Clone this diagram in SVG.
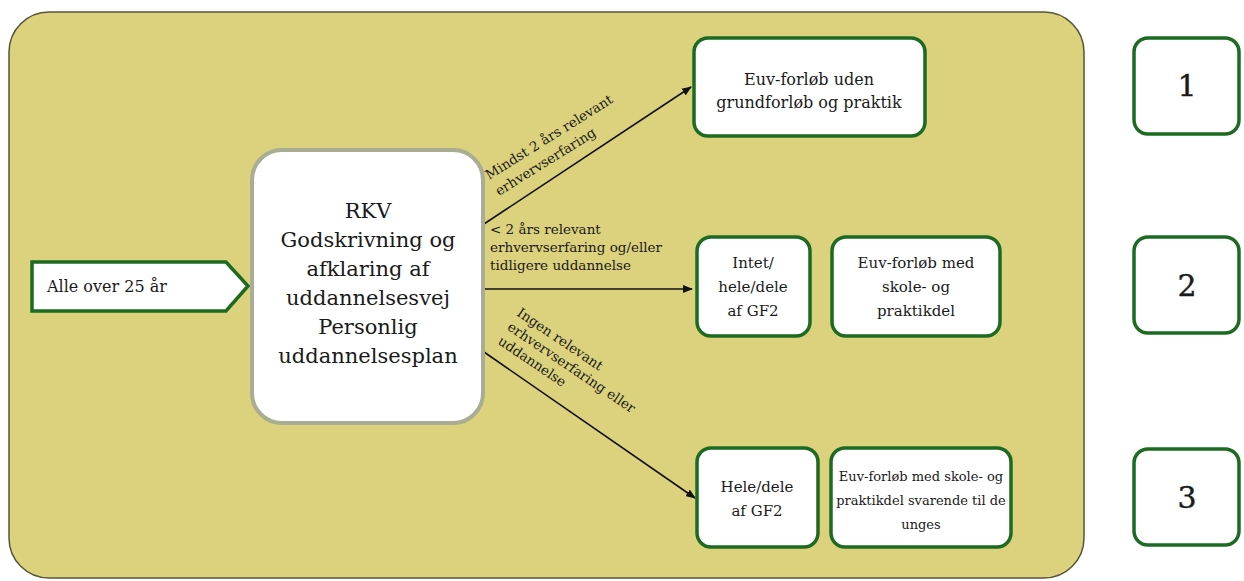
<svg xmlns="http://www.w3.org/2000/svg" width="1244" height="581" viewBox="0 0 1244 581">
<style>
text{font-family:'DejaVu Serif','Liberation Serif',serif;fill:#1a1a1a}
.gb{fill:#fff;stroke:#1d6b22;stroke-width:3.5}
.lbl{font-size:13.5px}
.c{stroke:#111;stroke-width:1.6;fill:none}
.num{font-size:30px;text-anchor:middle;stroke:#1a1a1a;stroke-width:0.4}
</style>
<defs>
<marker id="ah" markerWidth="10" markerHeight="8" refX="9" refY="4" orient="auto" markerUnits="userSpaceOnUse"><path d="M0,0 L10,4 L0,8 z" fill="#111"/></marker>
</defs>
<rect width="1244" height="581" fill="#fff"/>
<text x="490" y="-20" font-size="80" font-weight="bold" fill="#000">y</text>
<rect id="panel" x="9" y="12" width="1075" height="566" rx="40" fill="#DCD17C" stroke="#55553a" stroke-width="1.5"/>
<g id="connectors">
<line class="c" x1="484" y1="224" x2="691" y2="87" marker-end="url(#ah)"/>
<line class="c" x1="484" y1="289" x2="692" y2="289" marker-end="url(#ah)"/>
<line class="c" x1="484" y1="352" x2="695" y2="498" marker-end="url(#ah)"/>
<text class="lbl" transform="translate(489,180) rotate(-32)"><tspan x="0" y="0">Mindst 2 års relevant</tspan><tspan x="0" y="19">erhvervserfaring</tspan></text>
<text class="lbl"><tspan x="490" y="234">&lt; 2 års relevant</tspan><tspan x="490" y="252">erhvervserfaring og/eller</tspan><tspan x="490" y="270">tidligere uddannelse</tspan></text>
<text class="lbl" transform="translate(516,315) rotate(34)"><tspan x="0" y="0">Ingen relevant</tspan><tspan x="0" y="17">erhvervserfaring eller</tspan><tspan x="0" y="34">uddannelse</tspan></text>
</g>
<g id="start">
<path class="gb" d="M32,262 H226 L248,286 L226,311 H32 Z"/>
<text x="47" y="292" font-size="16">Alle over 25 år</text>
</g>
<g id="rkv">
<rect x="252" y="150" width="231" height="273" rx="30" fill="#fff" stroke="#a9ad93" stroke-width="4"/>
<text font-size="21" text-anchor="middle"><tspan x="368" y="218">RKV</tspan><tspan x="368" y="247">Godskrivning og</tspan><tspan x="368" y="276">afklaring af</tspan><tspan x="368" y="305">uddannelsesvej</tspan><tspan x="368" y="334">Personlig</tspan><tspan x="368" y="363">uddannelsesplan</tspan></text>
</g>
<g id="n1">
<rect class="gb" x="694" y="38" width="231" height="98" rx="14"/>
<text font-size="16" text-anchor="middle"><tspan x="809" y="85">Euv-forløb uden</tspan><tspan x="809" y="108">grundforløb og praktik</tspan></text>
</g>
<g id="n2a">
<rect class="gb" x="697" y="237" width="113" height="99" rx="14"/>
<text font-size="15" text-anchor="middle"><tspan x="753" y="268">Intet/</tspan><tspan x="753" y="292">hele/dele</tspan><tspan x="753" y="316">af GF2</tspan></text>
</g>
<g id="n2b">
<rect class="gb" x="832" y="237" width="168" height="99" rx="14"/>
<text font-size="15" text-anchor="middle"><tspan x="916" y="268">Euv-forløb med</tspan><tspan x="916" y="292">skole- og</tspan><tspan x="916" y="316">praktikdel</tspan></text>
</g>
<g id="n3a">
<rect class="gb" x="697" y="448" width="121" height="99" rx="14"/>
<text font-size="15" text-anchor="middle"><tspan x="757" y="492">Hele/dele</tspan><tspan x="757" y="516">af GF2</tspan></text>
</g>
<g id="n3b">
<rect class="gb" x="831" y="448" width="180" height="99" rx="14"/>
<text font-size="13" text-anchor="middle"><tspan x="921" y="481">Euv-forløb med skole- og</tspan><tspan x="921" y="505">praktikdel svarende til de</tspan><tspan x="921" y="529">unges</tspan></text>
</g>
<g id="num1">
<rect class="gb" x="1134" y="38" width="105" height="96" rx="14"/>
<text class="num" x="1187" y="96">1</text>
</g>
<g id="num2">
<rect class="gb" x="1134" y="237" width="105" height="96" rx="14"/>
<text class="num" x="1187" y="296">2</text>
</g>
<g id="num3">
<rect class="gb" x="1134" y="449" width="105" height="96" rx="14"/>
<text class="num" x="1187" y="508">3</text>
</g>
</svg>
